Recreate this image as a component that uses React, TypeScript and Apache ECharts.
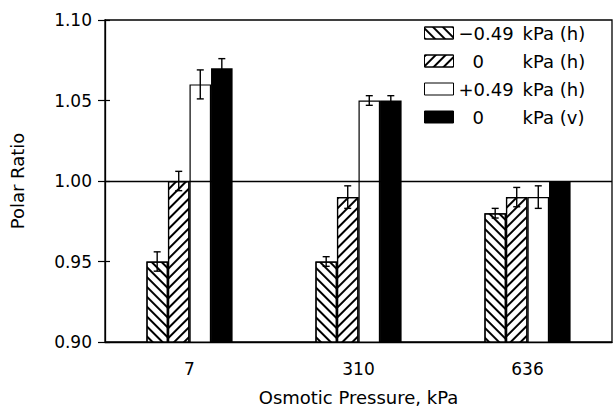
import React, { useEffect, useRef } from "react";
import * as echarts from "echarts";

const categories = ["7", "310", "636"];
const seriesNames = ["−0.49 kPa (h)", "0 kPa (h)", "+0.49 kPa (h)", "0 kPa (v)"];
const negH = [0.95, 0.95, 0.98];
const zeroH = [1.0, 0.99, 0.99];
const posH = [1.06, 1.05, 0.99];
const zeroV = [1.07, 1.05, 1.0];
const negHErr = [0.006, 0.003, 0.003];
const zeroHErr = [0.006, 0.007, 0.006];
const posHErr = [0.009, 0.003, 0.007];
const zeroVErr = [0.006, 0.003, 0];
const yTicks = [0.9, 0.95, 1.0, 1.05, 1.1];

const FONT = "DejaVu Sans";
const CAT_GAP = 0.49;

export default function App() {
  const ref = useRef<HTMLDivElement>(null);
  useEffect(() => {
    if (!ref.current) return;
    const chart = echarts.init(ref.current, undefined, { renderer: "svg" });
    const values = [negH, zeroH, posH, zeroV];
    const errs = [negHErr, zeroHErr, posHErr, zeroVErr];
    const n = values.length;
    const errData: number[][] = [];
    values.forEach((arr, s) =>
      arr.forEach((v, i) => errData.push([i, s, v, errs[s][i]]))
    );
    const hatch = (rot: number) => ({
      symbol: "rect",
      symbolSize: 1,
      dashArrayX: [1, 0],
      dashArrayY: [1.8, 4.4],
      rotation: rot,
      color: "#000",
      backgroundColor: "#fff",
    });
    const styles = [
      { color: "#fff", decal: hatch(Math.PI / 4) },
      { color: "#fff", decal: hatch(-Math.PI / 4) },
      { color: "#fff" },
      { color: "#000" },
    ];
    const barSeries = values.map((arr, s) => ({
      type: "bar",
      name: seriesNames[s],
      data: arr,
      barGap: "0%",
      barCategoryGap: CAT_GAP * 100 + "%",
      itemStyle: { ...styles[s], borderColor: "#000", borderWidth: 1.2 },
    }));
    const splitName = (name: string) => {
      const idx = name.indexOf(" ");
      return [name.slice(0, idx), name.slice(idx + 1)];
    };
    chart.setOption({
      animation: false,
      backgroundColor: "#fff",
      grid: {
        left: 105,
        right: 1,
        top: 20,
        bottom: 64,
        outerBoundsMode: "none",
        containLabel: false,
        show: true,
        borderColor: "#000",
        borderWidth: 1.3,
      },
      legend: {
        orient: "vertical",
        left: 419,
        top: 19,
        icon: "rect",
        itemWidth: 29,
        itemHeight: 12,
        itemGap: 10,
        data: seriesNames,
        itemStyle: { borderColor: "#000", borderWidth: 1 },
        formatter: (name: string) => {
          const [a, b] = splitName(name);
          const key = a === "0" ? "z" : "a";
          return `{${key}|${a}}{b|${b}}`;
        },
        textStyle: {
          fontFamily: FONT,
          fontSize: 18,
          color: "#000",
          lineHeight: 18,
          rich: {
            a: { width: 64, fontFamily: FONT, fontSize: 18, color: "#000" },
            z: { width: 50, padding: [0, 0, 0, 14], fontFamily: FONT, fontSize: 18, color: "#000" },
            b: { fontFamily: FONT, fontSize: 18, color: "#000" },
          },
        },
      },
      xAxis: {
        type: "category",
        data: categories,
        name: "Osmotic Pressure, kPa",
        nameLocation: "middle",
        nameGap: 46,
        nameTextStyle: { fontFamily: FONT, fontSize: 18, color: "#000" },
        axisLine: { lineStyle: { color: "#000", width: 1.3 } },
        axisTick: { show: false },
        axisLabel: { fontFamily: FONT, fontSize: 17, color: "#000", margin: 18 },
      },
      yAxis: [
        {
          type: "value",
          min: yTicks[0],
          max: yTicks[yTicks.length - 1],
          interval: 0.05,
          name: "Polar Ratio",
          nameLocation: "middle",
          nameGap: 79,
          nameTextStyle: { fontFamily: FONT, fontSize: 18, color: "#000" },
          axisLine: { show: true, lineStyle: { color: "#000", width: 1.3 } },
          axisTick: { show: true, length: 7, lineStyle: { color: "#000", width: 1.2 } },
          splitLine: { show: false },
          axisLabel: {
            fontFamily: FONT,
            fontSize: 17,
            color: "#000",
            margin: 13,
            formatter: (v: number) => v.toFixed(2),
          },
        },
        {
          type: "value",
          position: "left",
          min: yTicks[0],
          max: yTicks[yTicks.length - 1],
          interval: 0.05,
          axisLine: { show: false },
          axisTick: { show: true, inside: true, length: 5, lineStyle: { color: "#000", width: 1.2 } },
          axisLabel: { show: false },
          splitLine: { show: false },
        },
      ],
      series: [
        ...barSeries,
        {
          type: "custom",
          z: 10,
          data: errData,
          encode: { x: 0, y: 2 },
          renderItem: (params: any, api: any) => {
            const i = api.value(0);
            const s = api.value(1);
            const v = api.value(2);
            const e = api.value(3);
            if (!e) return null;
            const c = api.coord([i, v]);
            const catW = api.size([1, 0])[0];
            const bw = (catW * (1 - CAT_GAP)) / n;
            const x = c[0] + (s - (n - 1) / 2) * bw;
            const top = api.coord([i, v + e])[1];
            const bot = api.coord([i, v - e])[1];
            const h = 3.5;
            const st = { stroke: "#000", lineWidth: 1.4 };
            return {
              type: "group",
              children: [
                { type: "line", shape: { x1: x, y1: top, x2: x, y2: bot }, style: st },
                { type: "line", shape: { x1: x - h, y1: top, x2: x + h, y2: top }, style: st },
                { type: "line", shape: { x1: x - h, y1: bot, x2: x + h, y2: bot }, style: st },
              ],
            };
          },
          markLine: {
            silent: true,
            symbol: "none",
            label: { show: false },
            lineStyle: { color: "#000", type: "solid", width: 1.3 },
            data: [{ yAxis: 1.0 }],
          },
        },
      ],
    });
    return () => chart.dispose();
  }, []);
  return (
    <div
      ref={ref}
      style={{ position: "absolute", left: 0, top: 0, width: 613, height: 406 }}
    />
  );
}
